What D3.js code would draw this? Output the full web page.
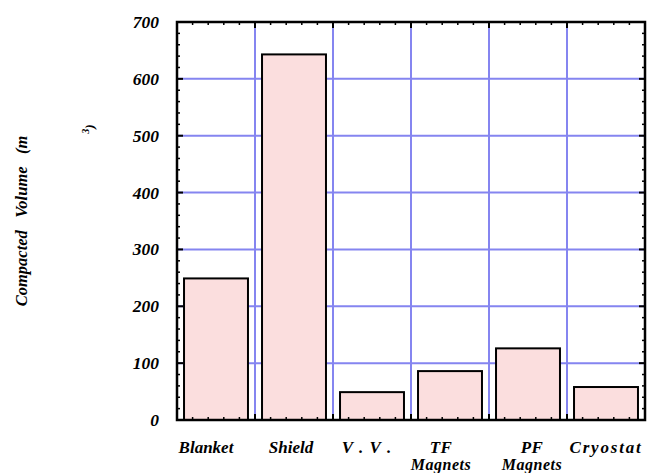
<!DOCTYPE html>
<html><head><meta charset="utf-8">
<script src="https://cdn.jsdelivr.net/npm/d3@7"></script>
<style>
body{margin:0;background:#fff;}
</style></head>
<body>
<svg id="chart" width="650" height="473"></svg>
<script>
const categories = ["Blanket","Shield","V. V.","TF Magnets","PF Magnets","Cryostat"];
const labelLines = [["Blanket"],["Shield"],["V . V ."],["TF","Magnets"],["PF","Magnets"],["Cryostat"]];
const volumes = [249, 643, 49, 86, 126, 58];
const yTicks = [0,100,200,300,400,500,600,700];

const FONT = "Liberation Serif";
const svg = d3.select("#chart");
const L=177, R=645, T=22, B=420;
const x = d3.scaleBand().domain(categories).range([L,R]).padding(0);
const y = d3.scaleLinear().domain([0,700]).range([B,T]);
const bw = x.bandwidth();
const gridColor = "#8585f0";

function styleText(sel){
  return sel.attr("font-family",FONT).attr("font-weight","bold").attr("font-style","italic").attr("fill","#000");
}

// grid
svg.append("g").selectAll("line.h").data(yTicks.slice(1,-1)).join("line")
  .attr("x1",L).attr("x2",R).attr("y1",d=>y(d)).attr("y2",d=>y(d))
  .attr("stroke",gridColor).attr("stroke-width",2);
svg.append("g").selectAll("line.v").data(categories.slice(1)).join("line")
  .attr("x1",d=>x(d)).attr("x2",d=>x(d)).attr("y1",T).attr("y2",B)
  .attr("stroke",gridColor).attr("stroke-width",2);

// bars
svg.append("g").selectAll("rect").data(categories).join("rect")
  .attr("x",(d)=>x(d)+bw*0.09).attr("width",bw*0.82)
  .attr("y",(d,i)=>y(volumes[i])).attr("height",(d,i)=>B-y(volumes[i]))
  .attr("fill","#fbdede").attr("stroke","#000").attr("stroke-width",2);

// minor ticks
const ticks = svg.append("g").attr("stroke","#000");
d3.range(0,701,20).forEach(v=>{
  const major = v%100===0;
  const len = major?6:3;
  ticks.append("line").attr("x1",L).attr("x2",L+len).attr("y1",y(v)).attr("y2",y(v)).attr("stroke-width",major?2:1.5);
  ticks.append("line").attr("x1",R).attr("x2",R-len).attr("y1",y(v)).attr("y2",y(v)).attr("stroke-width",major?2:1.5);
});
d3.range(0,31).forEach(k=>{
  const px = L+k*bw/5;
  const major = k%5===0;
  const len = major?6:3;
  ticks.append("line").attr("x1",px).attr("x2",px).attr("y1",T).attr("y2",T+len).attr("stroke-width",major?2:1.5);
  ticks.append("line").attr("x1",px).attr("x2",px).attr("y1",B).attr("y2",B-len).attr("stroke-width",major?2:1.5);
});

// frame
svg.append("rect").attr("x",L).attr("y",T).attr("width",R-L).attr("height",B-T)
  .attr("fill","none").attr("stroke","#000").attr("stroke-width",2.5);

// y tick labels
styleText(svg.append("g").selectAll("text").data(yTicks).join("text"))
  .attr("x",159).attr("y",d=>y(d)+6).attr("text-anchor","end")
  .attr("font-size",17.5).text(d=>d);

// x labels
const nudge = [-10,-3,-5,-9,4,0];
const spacing = [0,0,1,0.5,0.5,1.8];
const xl = svg.append("g");
labelLines.forEach((lines,i)=>{
  lines.forEach((s,j)=>{
    styleText(xl.append("text")).attr("x",x(categories[i])+bw/2+nudge[i]).attr("y",453+j*17)
      .attr("text-anchor","middle").attr("font-size",j===0?17:16)
      .attr("letter-spacing",j===0?spacing[i]:0.5).text(s);
  });
});

// y title
styleText(svg.append("text")).attr("transform","translate(27,221) rotate(-90)")
  .attr("text-anchor","middle").attr("font-size",16.5)
  .attr("xml:space","preserve").style("white-space","pre")
  .text("Compacted   Volume   (m");
styleText(svg.append("text")).attr("transform","translate(94,129) rotate(-90)")
  .attr("text-anchor","middle").attr("font-size",13)
  .html('<tspan font-size="10" dy="-5">3</tspan><tspan dy="5">)</tspan>');
</script>
</body></html>
